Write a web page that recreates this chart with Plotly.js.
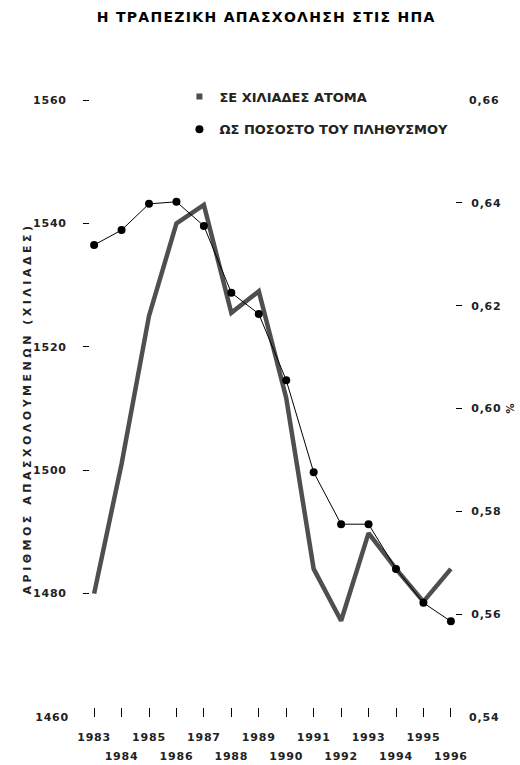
<!DOCTYPE html>
<html>
<head>
<meta charset="utf-8">
<script src="https://cdn.plot.ly/plotly-3.0.1.min.js"></script>
<style>
html,body{margin:0;padding:0;background:#fff;}
#chart .xtick text, #chart .x2tick text, #chart .ytick text, #chart .y2tick text,
#chart .y3tick text, #chart .y4tick text {letter-spacing:0.8px;}
#chart .gtitle {letter-spacing:1.3px;}
#chart .ytitle {letter-spacing:3.5px;}
</style>
</head>
<body>
<div id="chart" style="width:520px;height:765px;"></div>
<script>
// ---- data ----
var years = [1983,1984,1985,1986,1987,1988,1989,1990,1991,1992,1993,1994,1995,1996];
var employment = [1480,1501,1525,1540,1543,1525.5,1529,1511.7,1484,1475.6,1489.8,1484,1478.7,1484];
var percentPop = [0.6318,0.6347,0.6398,0.6402,0.6355,0.6225,0.6184,0.6055,0.5876,0.5775,0.5775,0.5688,0.5622,0.5586];
var seriesNames = ["ΣΕ ΧΙΛΙΑΔΕΣ ΑΤΟΜΑ", "ΩΣ ΠΟΣΟΣΤΟ ΤΟΥ ΠΛΗΘΥΣΜΟΥ"];
var leftTicks = [1480,1500,1520,1540,1560];
var leftEndTicks = [1460];
var rightTicks = [0.56,0.58,0.60,0.62,0.64];
var rightEndTicks = [0.54,0.66];
var titleText = "Η ΤΡΑΠΕΖΙΚΗ ΑΠΑΣΧΟΛΗΣΗ ΣΤΙΣ ΗΠΑ";
var leftTitle = "ΑΡΙΘΜΟΣ ΑΠΑΣΧΟΛΟΥΜΕΝΩΝ (ΧΙΛΙΑΔΕΣ)";
var rightTitle = "%";

function comma(v){ return v.toFixed(2).replace(".", ","); }
var evenYears = years.filter(function(y){return y % 2 === 0;});

var FONT = "DejaVu Sans, Arial, sans-serif";
var tf = {family: FONT, size: 11, color: "#222", weight: "bold"};

var traces = [
  {x: years, y: employment, type: "scatter", mode: "lines", xaxis: "x", yaxis: "y",
   line: {color: "#4f4f4f", width: 4.5}, showlegend: false, name: seriesNames[0]},
  {x: years, y: percentPop, type: "scatter", mode: "lines+markers", xaxis: "x", yaxis: "y2",
   line: {color: "#000", width: 1}, marker: {color: "#000", size: 8, symbol: "circle"},
   showlegend: false, name: seriesNames[1]},
  // legend entries
  {x: [null], y: [null], type: "scatter", mode: "markers", name: seriesNames[0], legendgroup: "a",
   marker: {color: "#4f4f4f", size: 6, symbol: "square"}, showlegend: true},
  {x: [null], y: [null], type: "scatter", mode: "markers", name: seriesNames[1], legendgroup: "b",
   marker: {color: "#000", size: 8, symbol: "circle"}, showlegend: true}
];

var xr = [1982.85, 1996.15];
var layout = {
  width: 520, height: 765, autosize: false,
  paper_bgcolor: "#fff", plot_bgcolor: "#fff",
  margin: {l: 90, r: 65, t: 100, b: 48},
  font: {family: FONT, color: "#222"},
  title: {text: titleText, font: {family: FONT, size: 14, color: "#000", weight: "bold"},
          x: 0.512, xref: "container", y: 0.977, yref: "container", yanchor: "middle", xanchor: "center"},
  showlegend: true,
  legend: {x: 0.245, y: 1.03, xanchor: "left", yanchor: "top", bgcolor: "rgba(0,0,0,0)",
           font: {family: FONT, size: 13, color: "#222", weight: "bold"},
           tracegroupgap: 13, itemwidth: 30},
  xaxis: {range: xr, tickmode: "array", tickvals: years,
          ticktext: years.map(function(y){ return y % 2 === 1 ? String(y) : ""; }),
          ticks: "inside", ticklen: 9, tickwidth: 1, tickcolor: "#000",
          showline: false, showgrid: false, zeroline: false, tickfont: tf, ticklabelstandoff: 12},
  xaxis2: {range: xr, overlaying: "x", side: "bottom", anchor: "y", tickmode: "array", tickvals: evenYears,
           ticktext: evenYears.map(String), ticks: "", showline: false, showgrid: false, zeroline: false,
           tickfont: tf, ticklabelstandoff: 31},
  yaxis: {range: [1460, 1560], tickmode: "array", tickvals: leftTicks, ticktext: leftTicks.map(String),
          ticks: "outside", ticklen: 6, tickwidth: 1, tickcolor: "#000",
          showline: false, showgrid: false, zeroline: false, tickfont: tf, ticklabelstandoff: 14,
          title: {text: leftTitle, font: {family: FONT, size: 11, color: "#222", weight: "bold"}, standoff: 2}},
  yaxis3: {range: [1460, 1560], overlaying: "y", side: "left", anchor: "x", tickmode: "array",
           tickvals: leftEndTicks, ticktext: leftEndTicks.map(String), ticks: "",
           showline: false, showgrid: false, zeroline: false, tickfont: tf, ticklabelstandoff: 20},
  yaxis2: {range: [0.54, 0.66], overlaying: "y", side: "right", anchor: "x", tickmode: "array",
           tickvals: rightTicks, ticktext: rightTicks.map(comma),
           ticks: "outside", ticklen: 6, tickwidth: 1, tickcolor: "#000",
           showline: false, showgrid: false, zeroline: false, tickfont: tf, ticklabelstandoff: 7,
           title: {text: rightTitle, font: {family: FONT, size: 10, color: "#222", weight: "bold"}, standoff: 9}},
  yaxis4: {range: [0.54, 0.66], overlaying: "y", side: "right", anchor: "x", tickmode: "array",
           tickvals: rightEndTicks, ticktext: rightEndTicks.map(comma), ticks: "",
           showline: false, showgrid: false, zeroline: false, tickfont: tf, ticklabelstandoff: 13}
};

// empty traces so the overlay axes are drawn
traces.push({x: [null], y: [null], xaxis: "x2", yaxis: "y", type: "scatter", mode: "markers", showlegend: false, hoverinfo: "skip"});
traces.push({x: [null], y: [null], xaxis: "x", yaxis: "y3", type: "scatter", mode: "markers", showlegend: false, hoverinfo: "skip"});
traces.push({x: [null], y: [null], xaxis: "x", yaxis: "y4", type: "scatter", mode: "markers", showlegend: false, hoverinfo: "skip"});

Plotly.newPlot("chart", traces, layout, {displayModeBar: false, staticPlot: true});
</script>
</body>
</html>
